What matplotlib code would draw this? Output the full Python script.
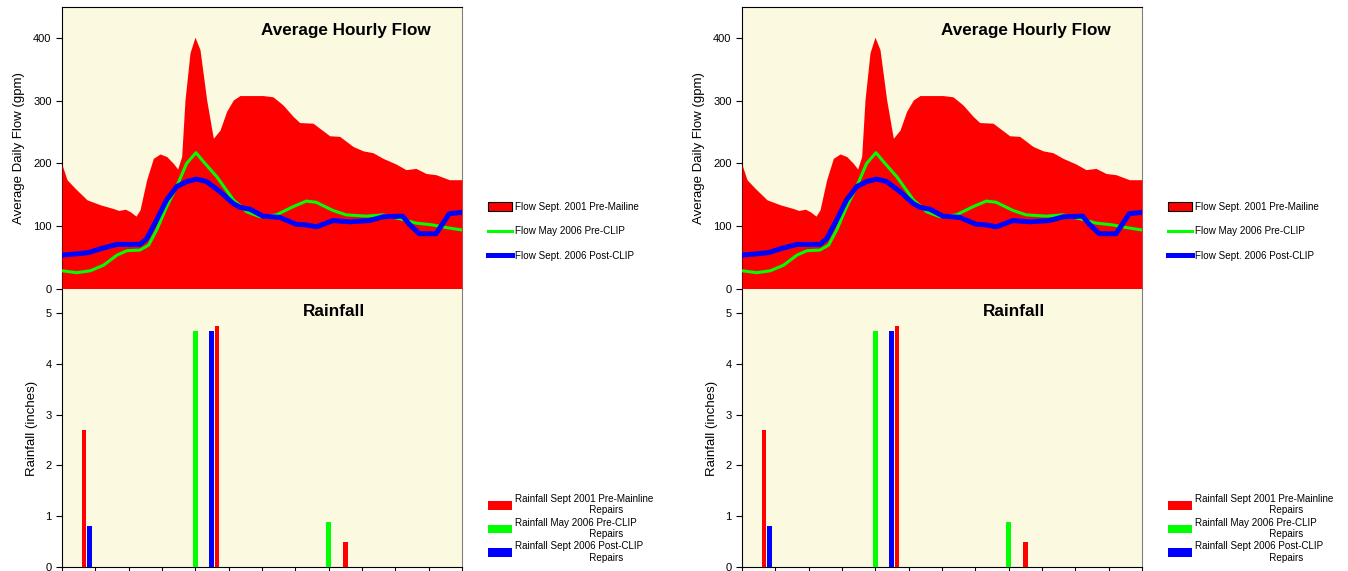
import matplotlib.pyplot as plt
from matplotlib.patches import Patch
from matplotlib.lines import Line2D

plt.rcParams['font.family'] = ['Liberation Sans', 'DejaVu Sans']

# Flow Sept. 2001 Pre-Mainline (red area)
red_x = [0, 0.15, 0.4, 0.75, 1.15, 1.55, 1.7, 1.9, 2.05, 2.22, 2.34, 2.54, 2.74, 2.94,
         3.14, 3.34, 3.47, 3.59, 3.69, 3.84, 3.99, 4.14, 4.34, 4.54, 4.74, 4.94, 5.14,
         5.34, 6.03, 6.33, 6.63, 6.93, 7.13, 7.53, 7.73, 8.03, 8.33, 8.73, 9.03, 9.33,
         9.63, 10.02, 10.32, 10.62, 10.92, 11.22, 11.62, 12]
red_y = [198, 174, 160, 142, 134, 128, 125, 127, 123, 116, 126, 174, 208, 215,
         211, 200, 191, 211, 301, 376, 401, 381, 301, 240, 253, 283, 301,
         308, 308, 306, 293, 275, 265, 264, 256, 244, 243, 227, 220, 217,
         208, 199, 190, 192, 184, 182, 174, 174]

# Flow May 2006 Pre-CLIP (green line)
green_x = [0, 0.45, 0.85, 1.25, 1.65, 1.95, 2.34, 2.6, 2.84, 3.14, 3.44, 3.74, 4.02,
           4.24, 4.64, 5.14, 5.54, 5.94, 6.43, 6.93, 7.33, 7.63, 8.13, 8.53, 9.13,
           9.63, 10.12, 10.62, 11.12, 11.62, 12]
green_y = [29, 26, 29, 38, 54, 61, 62, 70, 94, 131, 163, 200, 217,
           203, 179, 142, 123, 115, 118, 131, 140, 138, 125, 118, 116,
           118, 112, 105, 102, 97, 94]

# Flow Sept. 2006 Post-CLIP (blue line)
blue_x = [0, 0.45, 0.8, 1.15, 1.65, 1.95, 2.34, 2.54, 2.84, 3.14, 3.44, 3.74, 4.04,
          4.34, 4.74, 5.14, 5.34, 5.64, 6.03, 6.53, 7.03, 7.33, 7.63, 8.13, 8.63,
          9.23, 9.63, 10.22, 10.42, 10.72, 11.22, 11.42, 11.62, 12]
blue_y = [54, 56, 58, 64, 71, 71, 71, 80, 110, 142, 163, 171, 175,
          171, 155, 136, 130, 127, 116, 114, 103, 102, 99, 109, 107,
          109, 115, 116, 103, 88, 88, 104, 120, 122]

# Rainfall bars
rain_red_x = [0.66, 4.65, 8.5]
rain_red_y = [2.7, 4.75, 0.5]
rain_green_x = [4.0, 8.0]
rain_green_y = [4.65, 0.88]
rain_blue_x = [0.83, 4.49]
rain_blue_y = [0.8, 4.65]

flow_labels = ['Flow Sept. 2001 Pre-Mailine', 'Flow May 2006 Pre-CLIP',
               'Flow Sept. 2006 Post-CLIP']
rain_labels = ['Rainfall Sept 2001 Pre-Mainline', 'Rainfall May 2006 Pre-CLIP',
               'Rainfall Sept 2006 Post-CLIP']

RED = '#ff0000'
GREEN = '#00ff00'
BLUE = '#0000ff'
BG = '#fcf9e1'

W, H = 1348, 571
fig = plt.figure(figsize=(W / 100, H / 100), dpi=100)


def draw_half(off):
    # flow panel
    ax = fig.add_axes([(62 + off) / W, (H - 289) / H, 400 / W, 282 / H])
    ax.set_facecolor(BG)
    ax.fill_between(red_x, red_y, 0, color=RED, lw=0, zorder=3)
    ax.plot(green_x, green_y, color=GREEN, lw=2.2, zorder=4)
    ax.plot(blue_x, blue_y, color=BLUE, lw=3.6, zorder=5)
    ax.set_xlim(0, 12)
    ax.set_ylim(0, 449)
    ax.set_yticks([0, 100, 200, 300, 400])
    ax.set_xticks([])
    ax.tick_params(axis='y', direction='out', length=4, labelsize=8)
    ax.set_ylabel('Average Daily Flow (gpm)', fontsize=9.5, labelpad=5.5)
    ax.spines['right'].set_color('#808080')
    ax.text(0.71, 0.918, 'Average Hourly Flow', transform=ax.transAxes,
            ha='center', va='center', fontsize=12.3, fontweight='bold')

    handles = [Patch(facecolor=RED, edgecolor='black', lw=0.8),
               Line2D([], [], color=GREEN, lw=2.2),
               Line2D([], [], color=BLUE, lw=3.6)]
    fig.legend(handles, flow_labels, loc='upper left',
               bbox_to_anchor=((479 + off) / W, (H - 193) / H),
               frameon=False, fontsize=7.1, handlelength=2.4, handleheight=1.0,
               labelspacing=1.48, handletextpad=0.32)

    # rainfall panel
    ax2 = fig.add_axes([(62 + off) / W, (H - 567) / H, 400 / W, 278 / H])
    ax2.set_facecolor(BG)
    bw = 0.14
    ax2.bar(rain_red_x, rain_red_y, width=bw, color=RED, zorder=3)
    ax2.bar(rain_green_x, rain_green_y, width=bw, color=GREEN, zorder=3)
    ax2.bar(rain_blue_x, rain_blue_y, width=bw, color=BLUE, zorder=3)
    ax2.set_xlim(0, 12)
    ax2.set_ylim(0, 5.47)
    ax2.set_xticks(range(13))
    ax2.set_xticklabels([])
    ax2.set_yticks([0, 1, 2, 3, 4, 5])
    ax2.tick_params(direction='out', length=4, labelsize=8)
    ax2.set_ylabel('Rainfall (inches)', fontsize=9.5, labelpad=5)
    ax2.spines['top'].set_visible(False)
    ax2.spines['right'].set_color('#808080')
    ax2.text(0.68, 0.92, 'Rainfall', transform=ax2.transAxes,
             ha='center', va='center', fontsize=12.3, fontweight='bold')

    pad = ' ' * 27
    rh = [Patch(facecolor=RED), Patch(facecolor=GREEN), Patch(facecolor=BLUE)]
    fig.legend(rh, [t + '\n' + pad + 'Repairs' for t in rain_labels],
               loc='upper left', bbox_to_anchor=((479 + off) / W, (H - 485) / H),
               frameon=False, fontsize=7.1, handlelength=2.4, handleheight=1.0,
               labelspacing=0.22, handletextpad=0.32)


draw_half(0)
draw_half(680)

fig.savefig('out.png', dpi=100)
